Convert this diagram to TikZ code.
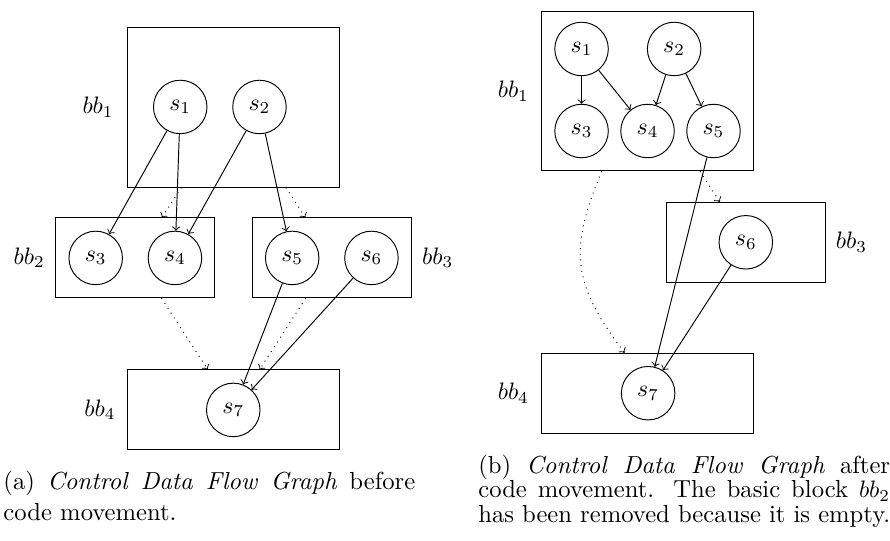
\documentclass[tikz,border=0pt]{standalone}
\usetikzlibrary{positioning}

\tikzstyle{bblock} = [rectangle, draw, minimum width=3.13cm, minimum height=2.35cm]
\tikzstyle{smallblock} = [rectangle, draw, minimum width=2.35cm, minimum height=1.18cm]
\tikzstyle{stmt} = [circle, draw, minimum size=0.79cm, inner sep=0pt]
\tikzstyle{dep} = [draw, ->]
\tikzstyle{flow} = [draw, ->, dotted]
\tikzstyle{subcap} = [anchor=north west, inner sep=0pt, text width=6.08cm, align=justify,
    font=\fontsize{10.35}{12.4}\selectfont]

\begin{document}
\begin{tikzpicture}[node distance=1.17cm, auto]
\useasboundingbox (0,0) rectangle (13.14,-7.985);

%(a) before code movement
\node (BB1a) [bblock] at (3.454,-1.587) {};
\node (BB2a) [smallblock] at (1.997,-3.808) {};
\node (BB3a) [smallblock] at (4.897,-3.808) {};
\node (BB4a) [bblock, minimum height=1.17cm] at (3.451,-6.047) {};

\node (LabelBB1a) [left=0.08cm of BB1a] {$bb_1$};
\node (LabelBB2a) [left=0.03cm of BB2a] {$bb_2$};
\node (LabelBB3a) [right=0.03cm of BB3a] {$bb_3$};
\node (LabelBB4a) [left=0.05cm of BB4a] {$bb_4$};

\node (S1a) [stmt] at (2.661,-1.579) {$s_1$};
\node (S2a) [stmt, right of=S1a] {$s_2$};
\node (S3a) [stmt] at (1.413,-3.808) {$s_3$};
\node (S4a) [stmt, right of=S3a] {$s_4$};
\node (S5a) [stmt] at (4.314,-3.808) {$s_5$};
\node (S6a) [stmt, right of=S5a] {$s_6$};
\node (S7a) [stmt] at (3.444,-6.052) {$s_7$};

\path [flow](BB1a)--(BB2a);
\path [flow](BB1a)--(BB3a);
\path [flow](BB2a)--(BB4a);
\path [flow](BB3a)--(BB4a);

\path [dep](S1a)--(S3a);
\path [dep](S1a)--(S4a);
\path [dep](S2a)--(S4a);
\path [dep](S2a)--(S5a);
\path [dep](S5a)--(S7a);
\path [dep](S6a)--(S7a);

\node (CaptionA) [subcap] at (0.044,-6.95)
  {\baselineskip=12.9pt (a) \textit{Control Data Flow Graph} before\linebreak code movement.\par};

%(b) after code movement
\node (BB1b) [bblock] at (9.565,-1.348) {};
\node (BB3b) [smallblock] at (11.016,-3.577) {};
\node (BB4b) [bblock, minimum height=1.18cm] at (9.565,-5.805) {};

\node (LabelBB1b) [left=0.06cm of BB1b] {$bb_1$};
\node (LabelBB3b) [right=0.02cm of BB3b] {$bb_3$};
\node (LabelBB4b) [left=0.06cm of BB4b] {$bb_4$};

\node (S1b) [stmt] at (8.586,-0.723) {$s_1$};
\node (S2b) [stmt, right of=S1b, node distance=1.367cm] {$s_2$};
\node (S3b) [stmt, below of=S1b, node distance=1.211cm] {$s_3$};
\node (S4b) [stmt, right of=S3b, node distance=0.974cm] {$s_4$};
\node (S5b) [stmt, right of=S4b, node distance=0.974cm] {$s_5$};
\node (S6b) [stmt] at (11.011,-3.577) {$s_6$};
\node (S7b) [stmt] at (9.569,-5.805) {$s_7$};

\path [flow](BB1b)--(BB3b);
\path [flow](BB1b) to[bend right=30, looseness=1.2] (BB4b);

\path [dep](S1b)--(S3b);
\path [dep](S1b)--(S4b);
\path [dep](S2b)--(S4b);
\path [dep](S2b)--(S5b);
\path [dep](S5b)--(S7b);
\path [dep](S6b)--(S7b);

\node (CaptionB) [subcap] at (7.055,-6.71)
  {\baselineskip=10.2pt (b) \textit{Control Data Flow Graph} after\linebreak code movement. The basic block $bb_2$\linebreak has been removed because it is empty.\par};

\end{tikzpicture}
\end{document}
